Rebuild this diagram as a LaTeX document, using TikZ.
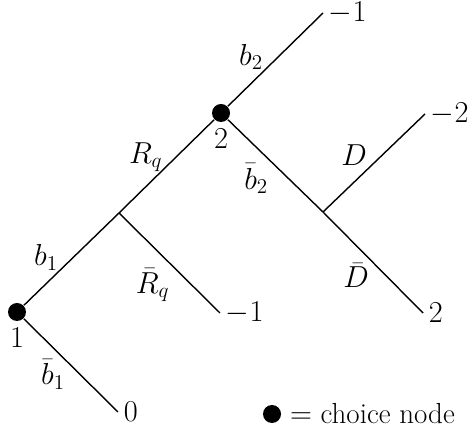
\documentclass[tikz,border=0pt]{standalone}
\usepackage{tikz}
\usetikzlibrary{positioning}
\usepackage{amsmath,amssymb}

\tikzset{
  choice/.style={circle,fill,inner sep=0pt,minimum size=3.6mm},
  payoff/.style={anchor=west,inner xsep=3pt,inner ysep=0pt},
  act/.style={left=5pt},
}

\begin{document}
\begin{tikzpicture}[x=20mm,y=20mm,font=\fontsize{16.5}{20}\selectfont,line width=0.8pt]
        \useasboundingbox (0,0) rectangle (4.68,4.29);
        % choice nodes and junctions
        \node[choice] (n1) at (0.17,1.17) {};
        \node[choice] (n2) at (2.21,3.16) {};
        \coordinate (rq) at (1.19,2.16);
        \coordinate (dd) at (3.23,2.17);
        \node[below=0pt of n1] {$1$};
        \node[below=0pt of n2] {$2$};
        % payoffs
        \node[payoff] (p0) at (1.18,0.17) {$0$};
        \node[payoff] (pr) at (2.20,1.16) {$-1$};
        \node[payoff] (pb) at (3.23,4.16) {$-1$};
        \node[payoff] (pd) at (4.25,3.15) {$-2$};
        \node[payoff] (pe) at (4.23,1.16) {$2$};
        % branches
        \draw (n1) -- node[act,pos=0.52] {$b_1$} (rq);
        \draw (n1) -- node[act,pos=0.6] {$\bar{b}_1$} (p0.west);
        \draw (rq) -- node[left=4pt,pos=0.6] {$R_q$} (n2);
        \draw (rq) -- node[left=9pt,pos=0.72] {$\bar{R}_q$} (pr.west);
        \draw (n2) -- node[act,pos=0.53] {$b_2$} (pb.west);
        \draw (n2) -- node[left=8pt,pos=0.64] {$\bar{b}_2$} (dd);
        \draw (dd) -- node[act,pos=0.58] {$D$} (pd.west);
        \draw (dd) -- node[left=6pt,pos=0.63] {$\bar{D}$} (pe.west);
        % key
        \node[choice] (key) at (2.72,0.15) {};
        \node[right=1pt of key] (keytext) {$=$ choice node};
\end{tikzpicture}
\end{document}
